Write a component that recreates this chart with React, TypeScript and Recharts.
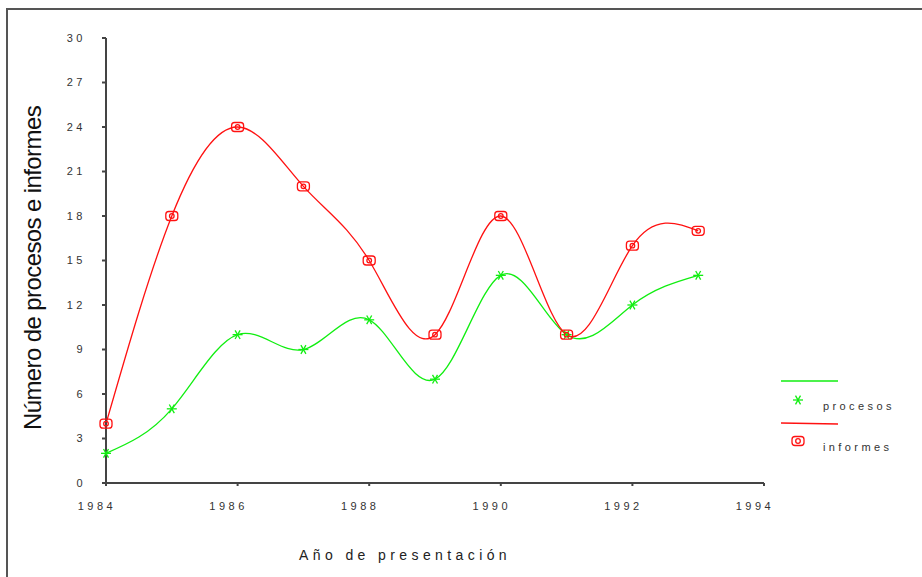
import React from "react"
import { LineChart, Line, XAxis, YAxis } from "recharts"

// valores
const years = [1984, 1985, 1986, 1987, 1988, 1989, 1990, 1991, 1992, 1993]
const procesos = [2, 5, 10, 9, 11, 7, 14, 10, 12, 14]
const informes = [4, 18, 24, 20, 15, 10, 18, 10, 16, 17]
const xTicks = [1984, 1986, 1988, 1990, 1992, 1994]
const yTicks = [0, 3, 6, 9, 12, 15, 18, 21, 24, 27, 30]

const data = years.map((year, i) => ({ year, procesos: procesos[i], informes: informes[i] }))

const GREEN = "#11ee11"
const RED = "#ff1111"
const FONT = "Liberation Sans, Arial, sans-serif"

const Star = ({ cx, cy }: any) => {
  if (cx == null || cy == null) return null
  const r = 5
  const dx = r * 0.5
  const dy = r * 0.866
  return (
    <g stroke={GREEN} strokeWidth={1.3}>
      <line x1={cx - r} y1={cy} x2={cx + r} y2={cy} />
      <line x1={cx - dx} y1={cy - dy} x2={cx + dx} y2={cy + dy} />
      <line x1={cx + dx} y1={cy - dy} x2={cx - dx} y2={cy + dy} />
    </g>
  )
}

const Badge = ({ cx, cy }: any) => {
  if (cx == null || cy == null) return null
  return (
    <g stroke={RED} strokeWidth={1.3} fill="none">
      <rect x={cx - 6} y={cy - 4.5} width={12} height={9} rx={3} />
      <circle cx={cx} cy={cy} r={2.3} />
    </g>
  )
}

const LegendBox = () => (
  <svg width={140} height={90} style={{ position: "absolute", left: 781, top: 380 }}>
    <line x1={0} y1={1} x2={57} y2={1} stroke={GREEN} strokeWidth={1.3} />
    <Star cx={17} cy={20} />
    <text x={42} y={30} fontSize={11} letterSpacing={3.4} fill="#333" fontFamily={FONT}>procesos</text>
    <line x1={0} y1={43} x2={57} y2={44} stroke={RED} strokeWidth={1.3} />
    <Badge cx={17} cy={61} />
    <text x={42} y={71} fontSize={11} letterSpacing={3.4} fill="#333" fontFamily={FONT}>informes</text>
  </svg>
)

const tickStyle = { fontSize: 11, fill: "#333", letterSpacing: 3.5, fontFamily: FONT }

export default function App() {
  return (
    <div style={{ position: "absolute", left: 0, top: 0, width: 922, height: 577, background: "#fff", overflow: "hidden" }}>
      <div style={{ position: "absolute", left: 6, top: 8, width: 930, height: 600, borderTop: "2px solid #555", borderLeft: "2px solid #555" }} />
      <LineChart width={922} height={577} data={data} margin={{ top: 38, right: 158, bottom: 64, left: 46 }}>
        <XAxis
          dataKey="year"
          type="number"
          domain={[1984, 1994]}
          ticks={xTicks}
          height={30}
          stroke="#444"
          strokeWidth={2}
          tickSize={3}
          tickMargin={16}
          tick={{ ...tickStyle, dx: -9 }}
        />
        <YAxis
          type="number"
          domain={[0, 30]}
          ticks={yTicks}
          width={60}
          stroke="#444"
          strokeWidth={2}
          tickSize={4}
          tickMargin={16}
          tick={tickStyle}
        />
        <Line type="natural" dataKey="procesos" stroke={GREEN} strokeWidth={1.3} dot={<Star />} activeDot={false} isAnimationActive={false} />
        <Line type="natural" dataKey="informes" stroke={RED} strokeWidth={1.3} dot={<Badge />} activeDot={false} isAnimationActive={false} />
      </LineChart>
      <LegendBox />
      <div
        style={{
          position: "absolute",
          left: 405,
          top: 555,
          transform: "translate(-50%, -50%)",
          whiteSpace: "nowrap",
          fontFamily: FONT,
          fontSize: 14,
          letterSpacing: 4.4,
          color: "#222",
        }}
      >
        Año de presentación
      </div>
      <div
        style={{
          position: "absolute",
          left: 33,
          top: 268,
          transform: "translate(-50%, -50%) rotate(-90deg)",
          whiteSpace: "nowrap",
          fontFamily: FONT,
          fontSize: 24,
          letterSpacing: -0.6,
          color: "#111",
        }}
      >
        Número de procesos e informes
      </div>
    </div>
  )
}
